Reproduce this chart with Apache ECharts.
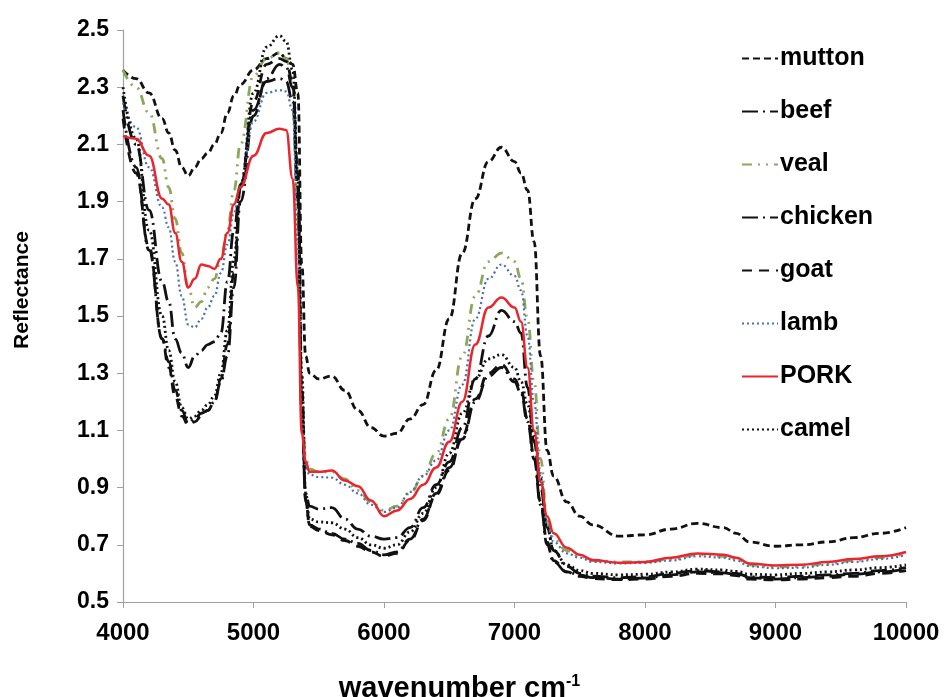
<!DOCTYPE html>
<html>
<head>
<meta charset="utf-8">
<script src="https://cdn.jsdelivr.net/npm/echarts@6/dist/echarts.min.js"></script>
<style>
  html, body { margin: 0; padding: 0; background: #fff; }
  #chart { width: 947px; height: 697px; }
</style>
</head>
<body>
<div id="chart"></div>
<script>
// wavenumber grid (cm-1) shared by all spectra
var wavenumbers = [4000,4100,4200,4300,4350,4400,4450,4500,4550,4600,4650,4700,4750,4800,4850,4900,
  5000,5100,5200,5250,5300,5340,5370,5400,5430,5500,5600,5700,5800,5900,6000,6100,
  6200,6300,6400,6500,6600,6700,6800,6900,7000,7050,7100,7150,7200,7250,7300,7400,7500,7600,
  7800,8000,8200,8400,8600,8700,8800,9000,9200,9400,9600,9800,10000];

var mutton = [2.36,2.33,2.28,2.19,
  2.14,2.08,2.02,1.99,2.02,2.05,2.07,2.10,2.14,2.21,2.27,2.31,
  2.36,2.40,2.42,2.40,2.38,
  2.28,1.68,1.36,1.30,
  1.28,1.29,1.24,1.17,1.11,1.08,1.09,
  1.14,1.19,1.31,1.49,1.72,1.91,2.04,2.09,
  2.04,2.00,1.94,1.76,1.36,1.03,0.94,
  0.85,0.80,0.77,
  0.73,0.735,0.755,0.775,0.76,
  0.74,0.71,
  0.695,0.70,0.71,0.725,0.74,0.76];

var beef = [2.27,2.10,1.87,1.62,
  1.55,1.42,1.37,1.32,1.36,1.38,1.40,1.41,1.44,1.62,1.80,1.96,
  2.22,2.32,2.33,2.32,2.25,
  1.90,1.15,0.88,0.835,
  0.825,0.83,0.79,0.755,0.73,0.72,0.725,
  0.76,0.83,0.91,0.99,1.11,1.28,1.43,1.52,
  1.48,1.44,1.25,1.06,0.90,0.76,0.68,
  0.625,0.60,0.59,
  0.585,0.588,0.60,0.61,0.605,
  0.60,0.588,
  0.585,0.59,0.595,0.60,0.61,0.62];

var veal = [2.36,2.30,2.21,2.05,
  1.95,1.84,1.72,1.60,1.53,1.55,1.60,1.63,1.70,1.80,1.94,2.10,
  2.34,2.40,2.42,2.40,2.32,
  1.85,1.20,1.00,0.965,
  0.955,0.955,0.93,0.89,0.85,0.82,0.835,
  0.88,0.94,1.02,1.14,1.36,1.57,1.69,1.72,
  1.69,1.63,1.49,1.27,1.00,0.785,0.72,
  0.68,0.66,0.645,
  0.64,0.64,0.65,0.665,0.66,
  0.65,0.63,
  0.622,0.625,0.635,0.645,0.655,0.67];

var chicken = [2.22,2.02,1.73,1.42,
  1.34,1.24,1.17,1.125,1.14,1.16,1.17,1.20,1.27,1.36,1.60,1.90,
  2.20,2.33,2.38,2.37,2.30,
  1.95,1.20,0.85,0.77,
  0.755,0.74,0.72,0.705,0.68,0.665,0.675,
  0.72,0.79,0.88,0.97,1.07,1.20,1.29,1.32,
  1.27,1.23,1.13,1.00,0.84,0.70,0.64,
  0.605,0.595,0.585,
  0.58,0.584,0.595,0.605,0.602,
  0.597,0.585,
  0.58,0.585,0.59,0.597,0.605,0.615];

var goat = [2.19,2.00,1.74,1.42,
  1.32,1.22,1.15,1.12,1.13,1.15,1.17,1.20,1.28,1.40,1.65,1.95,
  2.25,2.38,2.40,2.39,2.32,
  2.00,1.25,0.86,0.765,
  0.75,0.735,0.715,0.695,0.675,0.66,0.67,
  0.715,0.785,0.875,0.96,1.08,1.21,1.30,1.33,
  1.28,1.24,1.14,1.01,0.85,0.71,0.645,
  0.605,0.59,0.582,
  0.578,0.58,0.59,0.60,0.598,
  0.592,0.58,
  0.577,0.58,0.585,0.59,0.60,0.61];

var lamb = [2.245,2.16,2.02,1.88,
  1.81,1.69,1.57,1.47,1.46,1.49,1.53,1.57,1.65,1.75,1.86,1.96,
  2.18,2.28,2.29,2.285,2.22,
  1.75,1.15,0.97,0.945,
  0.937,0.935,0.91,0.88,0.84,0.815,0.83,
  0.885,0.94,0.995,1.10,1.26,1.49,1.63,1.68,
  1.64,1.59,1.43,1.20,0.95,0.77,0.71,
  0.67,0.655,0.64,
  0.635,0.637,0.645,0.66,0.655,
  0.645,0.625,
  0.618,0.62,0.63,0.64,0.65,0.665];

var pork = [2.13,2.12,2.06,1.91,
  1.89,1.79,1.69,1.60,1.63,1.68,1.675,1.665,1.70,1.79,1.89,1.95,
  2.06,2.14,2.155,2.15,1.98,
  1.60,1.09,0.99,0.955,
  0.955,0.96,0.925,0.905,0.855,0.80,0.82,
  0.86,0.91,0.97,1.06,1.20,1.40,1.53,1.565,
  1.53,1.48,1.32,1.10,0.92,0.80,0.74,
  0.69,0.665,0.647,
  0.637,0.64,0.655,0.67,0.665,
  0.655,0.635,
  0.628,0.63,0.64,0.65,0.66,0.675];

var camel = [2.30,2.12,1.80,1.50,
  1.38,1.27,1.18,1.14,1.15,1.17,1.19,1.22,1.30,1.45,1.70,1.95,
  2.28,2.44,2.48,2.46,2.36,
  2.00,1.30,0.88,0.79,
  0.78,0.777,0.755,0.725,0.70,0.688,0.70,
  0.745,0.81,0.90,1.02,1.16,1.28,1.35,1.365,
  1.32,1.27,1.19,1.08,0.93,0.76,0.68,
  0.63,0.61,0.60,
  0.595,0.597,0.605,0.615,0.612,
  0.607,0.597,
  0.595,0.60,0.605,0.612,0.62,0.63];

var seriesNames = ['mutton','beef','veal','chicken','goat','lamb','PORK','camel'];
var seriesValues = [mutton, beef, veal, chicken, goat, lamb, pork, camel];
var seriesColors = ['#111','#111','#8ea65a','#111','#111','#4a6fae','#e8262b','#111'];
var seriesDash = [[7,4],[16,5,2,5],[10,6,2,6,2,6],[16,5,2,5],[10,7],[2,3],'solid',[2,3]];
var seriesWidth = [2.8,2.8,2.8,2.8,2.8,2.2,2.5,2.8];

var font = 'Liberation Sans, Arial, sans-serif';

var series = [];
for (var i = 0; i < seriesNames.length; i++) {
  series.push({
    name: seriesNames[i],
    type: 'line',
    symbol: 'none',
    smooth: 0.45,
    smoothMonotone: 'x',
    data: wavenumbers.map(function (w, k) { return [w, seriesValues[i][k]]; }),
    lineStyle: { color: seriesColors[i], width: seriesWidth[i], type: seriesDash[i] },
    itemStyle: { color: seriesColors[i] },
    z: i === 6 ? 5 : 2
  });
}

var myChart = echarts.init(document.getElementById('chart'));
myChart.setOption({
  animation: false,
  backgroundColor: '#fff',
  grid: { left: 123, right: 41, top: 30, bottom: 95, containLabel: false, outerBoundsMode: 'none' },
  legend: {
    orient: 'vertical',
    left: 736,
    top: 41,
    itemWidth: 36,
    itemHeight: 14,
    itemGap: 28,
    itemStyle: { opacity: 0 },
    textStyle: { fontFamily: font, fontWeight: 'bold', fontSize: 25, color: '#000', padding: [0, 0, 0, -3] },
    data: seriesNames
  },
  xAxis: {
    type: 'value',
    min: 4000,
    max: 10000,
    interval: 1000,
    name: 'wavenumber cm{sup|-1}',
    nameLocation: 'middle',
    nameGap: 72,
    nameTextStyle: {
      fontFamily: font, fontWeight: 'bold', fontSize: 29, color: '#000',
      padding: [0, 110, 0, 0],
      rich: { sup: { fontFamily: font, fontWeight: 'bold', fontSize: 16, verticalAlign: 'top', padding: [0, 0, 12, 0] } }
    },
    axisLine: { lineStyle: { color: '#a0a0a0', width: 1.2 } },
    axisTick: { show: true, length: 6, lineStyle: { color: '#a0a0a0' } },
    axisLabel: {
      margin: 19, fontFamily: font, fontWeight: 'bold', fontSize: 24, color: '#000',
      formatter: function (v) { return String(v); }
    },
    splitLine: { show: false }
  },
  yAxis: {
    type: 'value',
    min: 0.5,
    max: 2.5,
    interval: 0.2,
    name: 'Reflectance',
    nameLocation: 'middle',
    nameGap: 90,
    nameTextStyle: { fontFamily: font, fontWeight: 'bold', fontSize: 21, color: '#000', padding: [0, 0, 0, 52] },
    axisLine: { show: true, lineStyle: { color: '#a0a0a0', width: 1.2 } },
    axisTick: { show: true, length: 6, lineStyle: { color: '#a0a0a0' } },
    axisLabel: {
      margin: 14, fontFamily: font, fontWeight: 'bold', fontSize: 23, color: '#000',
      formatter: function (v) { return v.toFixed(1); }
    },
    splitLine: { show: false }
  },
  series: series
});
</script>
</body>
</html>
